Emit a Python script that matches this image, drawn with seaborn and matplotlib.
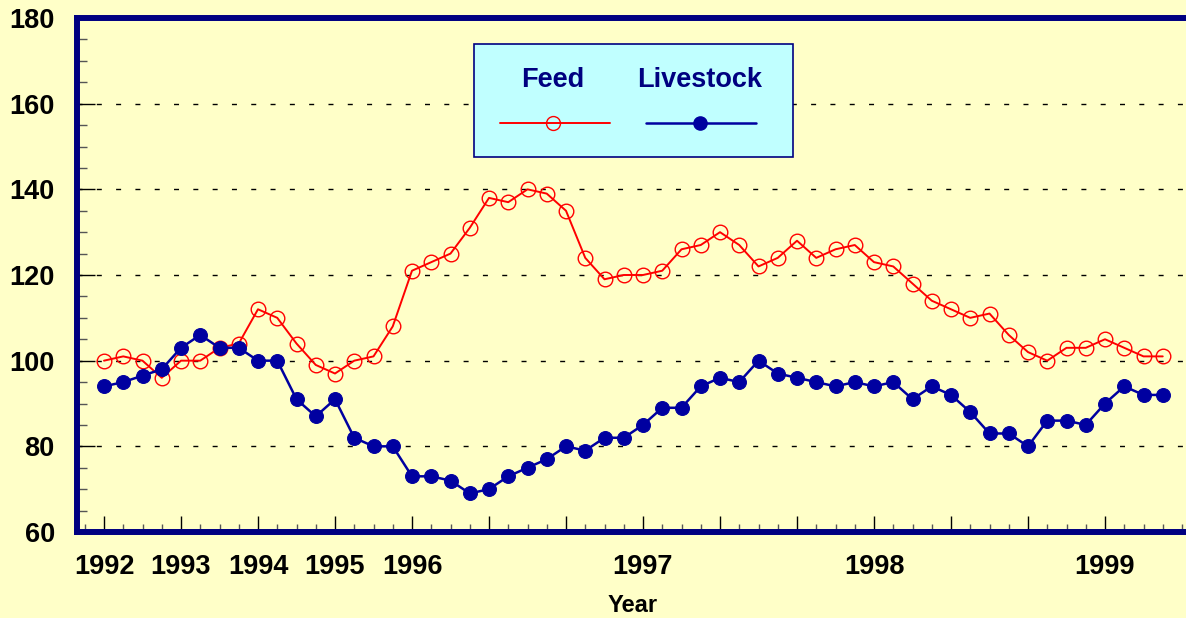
import matplotlib
matplotlib.use("Agg")
import matplotlib.pyplot as plt
from matplotlib.lines import Line2D
from matplotlib.patches import Rectangle
from matplotlib.ticker import MultipleLocator, FixedLocator
import seaborn as sns
import numpy as np
import pandas as pd

# ---- data ----
feed = [100, 101, 100, 96, 100, 100, 103, 104, 112, 110, 104, 99, 97, 100, 101,
        108, 121, 123, 125, 131, 138, 137, 140, 139, 135, 124, 119, 120, 120, 121,
        126, 127, 130, 127, 122, 124, 128, 124, 126, 127, 123, 122, 118, 114, 112,
        110, 111, 106, 102, 100, 103, 103, 105, 103, 101, 101]
livestock = [94, 95, 96.5, 98, 103, 106, 103, 103, 100, 100, 91, 87, 91, 82, 80,
             80, 73, 73, 72, 69, 70, 73, 75, 77, 80, 79, 82, 82, 85, 89,
             89, 94, 96, 95, 100, 97, 96, 95, 94, 95, 94, 95, 91, 94, 92,
             88, 83, 83, 80, 86, 86, 85, 90, 94, 92, 92]
period = list(range(len(feed)))
year_tick_labels = ["1992", "1993", "1994", "1995", "1996", "", "", "1997",
                    "", "", "1998", "", "", "1999"]
series_names = ["Feed", "Livestock"]
y_ticks = [60, 80, 100, 120, 140, 160, 180]

df = pd.DataFrame({"period": period, "Feed": feed, "Livestock": livestock})

BG = "#FFFFC8"
NAVY = "#000080"
RED = "#FF0000"
BLUE = "#0000A0"

sns.set_style("ticks")
plt.rcParams["font.family"] = ["Liberation Sans", "DejaVu Sans"]
plt.rcParams["font.weight"] = "bold"

W, H = 1186, 618
fig = plt.figure(figsize=(W / 100, H / 100), dpi=100, facecolor=BG)
left_px, right_px, top_px, bottom_px = 77, 1200, 18, 532
ax = fig.add_axes([left_px / W, 1 - bottom_px / H,
                   (right_px - left_px) / W, (bottom_px - top_px) / H])
ax.set_facecolor(BG)

sns.lineplot(data=df, x="period", y="Feed", ax=ax, color=RED, lw=1.4,
             marker="o", markersize=10.5, markerfacecolor="none",
             markeredgecolor=RED, markeredgewidth=1.0, legend=False)
sns.lineplot(data=df, x="period", y="Livestock", ax=ax, color=BLUE, lw=1.8,
             marker="o", markersize=10, markerfacecolor=BLUE,
             markeredgecolor=BLUE, legend=False)

# scales
ax.set_xlim((left_px - 104) / 19.25, (right_px - 104) / 19.25)
ax.set_ylim(60, 180)
ax.set_yticks(y_ticks)
ax.yaxis.set_minor_locator(MultipleLocator(5))
major_x = list(range(0, 4 * len(year_tick_labels), 4))
ax.xaxis.set_major_locator(FixedLocator(major_x))
ax.set_xticklabels(year_tick_labels)
ax.xaxis.set_minor_locator(MultipleLocator(1))

ax.tick_params(axis="y", which="major", direction="in", length=13, width=1,
               color="black", labelsize=19.5, pad=16, labelcolor="black")
ax.tick_params(axis="y", which="minor", direction="in", length=7, width=1,
               color="#555555")
ax.tick_params(axis="x", which="major", direction="in", length=11.5, width=1,
               color="black", labelsize=19.5, pad=16, labelcolor="black")
ax.tick_params(axis="x", which="minor", direction="in", length=6, width=1,
               color="#555555")
for lab in ax.get_xticklabels() + ax.get_yticklabels():
    lab.set_fontweight("bold")

ax.grid(axis="y", which="major", color="black", lw=1.0,
        linestyle=(0, (3.6, 10.3)))
ax.grid(axis="x", visible=False)

for side in ["left", "top", "bottom", "right"]:
    ax.spines[side].set_color(NAVY)
    ax.spines[side].set_linewidth(4.3)

ax.set_ylabel("")
ax.set_xlabel("Year", fontsize=17, fontweight="bold", color="black")
ax.xaxis.set_label_coords((633 - left_px) / (right_px - left_px),
                          -(605 - bottom_px) / (bottom_px - top_px))
ax.xaxis.label.set_va("center")

# ---- legend (text above line samples, as in the reference) ----
def fx(px):
    return px / W

def fy(py):
    return 1 - py / H

box = Rectangle((fx(474), fy(157)), fx(793) - fx(474), fy(44) - fy(157),
                transform=fig.transFigure, facecolor="#C0FFFF",
                edgecolor=NAVY, lw=1.2, zorder=5)
fig.patches.append(box)
legend_specs = [
    (series_names[0], 553, 500, 610, dict(color=RED, lw=1.4,
                                          markersize=10, markerfacecolor="none",
                                          markeredgecolor=RED, markeredgewidth=1.0)),
    (series_names[1], 700, 646, 756, dict(color=BLUE, lw=1.8,
                                          markersize=9.5, markerfacecolor=BLUE,
                                          markeredgecolor=BLUE, markeredgewidth=1.0)),
]
for name, cx, x0, x1, style in legend_specs:
    fig.text(fx(cx), fy(80), name, ha="center", va="center", fontsize=19.5,
             fontweight="bold", color=NAVY, zorder=6)
    fig.lines.append(Line2D([fx(x0), fx(x1)], [fy(123), fy(123)],
                            transform=fig.transFigure, zorder=6,
                            color=style["color"], lw=style["lw"]))
    fig.lines.append(Line2D([fx(cx)], [fy(123)], transform=fig.transFigure,
                            zorder=7, linestyle="none", marker="o",
                            markersize=style["markersize"],
                            markerfacecolor=style["markerfacecolor"],
                            markeredgecolor=style["markeredgecolor"],
                            markeredgewidth=style["markeredgewidth"]))

fig.savefig("out.png", dpi=100, facecolor=BG)
